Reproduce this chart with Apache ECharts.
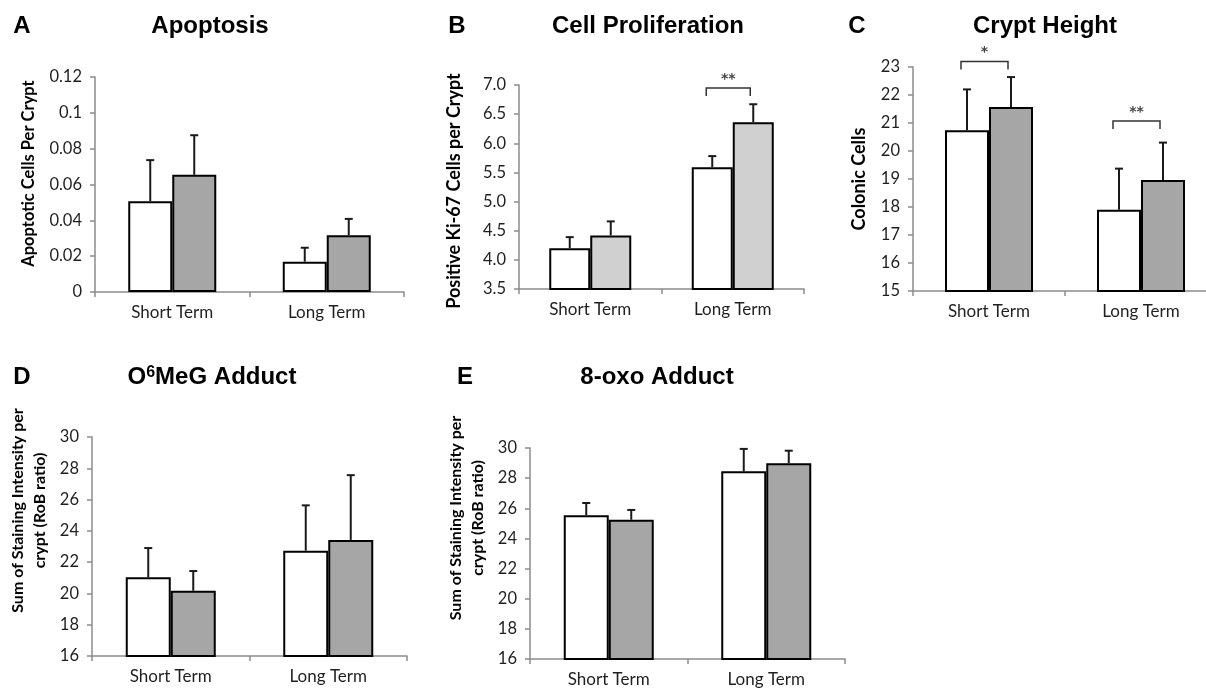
<!DOCTYPE html>
<html><head><meta charset="utf-8">
<script src="https://cdn.jsdelivr.net/npm/echarts@6/dist/echarts.min.js"></script>
<style>html,body{margin:0;padding:0;background:#fff}#c{width:1206px;height:690px}</style>
</head><body><div id="c"></div>
<script>
const categories = ['Short Term', 'Long Term'];

// A – Apoptosis
const apoptosisControl = [0.0507, 0.0169];
const apoptosisControlErr = [0.0229, 0.0078];
const apoptosisTreated = [0.0654, 0.0317];
const apoptosisTreatedErr = [0.0221, 0.0091];

// B – Cell proliferation
const prolifControl = [4.20, 5.59];
const prolifControlErr = [0.19, 0.19];
const prolifTreated = [4.42, 6.36];
const prolifTreatedErr = [0.24, 0.31];
const prolifBracketCat = [1];
const prolifBracketY = [6.95];
const prolifBracketLabel = ['**'];

// C – Crypt height
const cryptControl = [20.74, 17.90];
const cryptControlErr = [1.46, 1.47];
const cryptTreated = [21.57, 18.96];
const cryptTreatedErr = [1.07, 1.34];
const cryptBracketCat = [0, 1];
const cryptBracketY = [23.2, 21.07];
const cryptBracketLabel = ['*', '**'];

// D – O6MeG adduct
const o6Control = [21.04, 22.73];
const o6ControlErr = [1.86, 2.90];
const o6Treated = [20.17, 23.42];
const o6TreatedErr = [1.26, 4.14];

// E – 8-oxo adduct
const oxoControl = [25.53, 28.45];
const oxoControlErr = [0.82, 1.49];
const oxoTreated = [25.24, 28.98];
const oxoTreatedErr = [0.65, 0.84];

// tick ranges [min, max, interval]
const apoptosisTicks = [0, 0.12, 0.02];
const prolifTicks = [3.5, 7.0, 0.5];
const cryptTicks = [15, 23, 1];
const o6Ticks = [16, 30, 2];
const oxoTicks = [16, 30, 2];

const AXIS = '#8c8c8c';
const TXT = '#1f1f1f';
const LABEL_FONT = 'Lato';

const panels = [
  {grid:{left:95, top:77, width:309, height:215}, ticks:apoptosisTicks, dec:null, barW:44, gray:'#a6a6a6',
   name:'Apoptotic Cells Per Crypt', nameGap:55, nameSize:16.5, namePad:[0,0,0,22],
   ctrl:apoptosisControl, ctrlErr:apoptosisControlErr, trt:apoptosisTreated, trtErr:apoptosisTreatedErr},
  {grid:{left:519, top:85, width:285, height:204}, ticks:prolifTicks, dec:1, barW:41, gray:'#d0d0d0',
   name:'Positive Ki-67 Cells per Crypt', nameGap:54, nameSize:18, namePad:[0,8,0,0],
   ctrl:prolifControl, ctrlErr:prolifControlErr, trt:prolifTreated, trtErr:prolifTreatedErr,
   bCat:prolifBracketCat, bY:prolifBracketY, bLab:prolifBracketLabel},
  {grid:{left:913, top:67, width:304, height:224}, ticks:cryptTicks, dec:null, barW:44, gray:'#a6a6a6',
   name:'Colonic Cells', nameGap:43, nameSize:18, namePad:[0,0,0,0],
   ctrl:cryptControl, ctrlErr:cryptControlErr, trt:cryptTreated, trtErr:cryptTreatedErr,
   bCat:cryptBracketCat, bY:cryptBracketY, bLab:cryptBracketLabel},
  {grid:{left:92, top:437, width:315, height:219}, ticks:o6Ticks, dec:null, barW:45, gray:'#a6a6a6',
   name:'Sum of Staining Intensity per\ncrypt (RoB ratio)', nameGap:41, nameSize:16, namePad:[0,0,0,72],
   ctrl:o6Control, ctrlErr:o6ControlErr, trt:o6Treated, trtErr:o6TreatedErr},
  {grid:{left:530, top:448, width:315, height:211}, ticks:oxoTicks, dec:null, barW:45, gray:'#a6a6a6',
   name:'Sum of Staining Intensity per\ncrypt (RoB ratio)', nameGap:41, nameSize:16, namePad:[0,0,0,71],
   ctrl:oxoControl, ctrlErr:oxoControlErr, trt:oxoTreated, trtErr:oxoTreatedErr}
];

function errorRenderer(sign, barW) {
  return function (params, api) {
    const c = api.value(0), v = api.value(1), e = api.value(2);
    const p0 = api.coord([c, v]);
    const p1 = api.coord([c, v + e]);
    const x = p0[0] + sign * barW / 2;
    const cap = 4;
    const st = {stroke:'#1a1a1a', lineWidth:2};
    return {type:'group', children:[
      {type:'line', shape:{x1:x, y1:p0[1], x2:x, y2:p1[1]}, style:st},
      {type:'line', shape:{x1:x - cap, y1:p1[1], x2:x + cap, y2:p1[1]}, style:st}
    ]};
  };
}
function bracketRenderer(barW, labels) {
  return function (params, api) {
    const c = api.value(0), y = api.value(1);
    const p = api.coord([c, y]);
    const x1 = p[0] - barW / 2 - 6, x2 = p[0] + barW / 2 - 3;
    const yy = p[1], leg = 8;
    return {type:'group', children:[
      {type:'polyline', shape:{points:[[x1, yy + leg], [x1, yy], [x2, yy], [x2, yy + leg]]},
       style:{stroke:'#333', lineWidth:1.5, fill:null}},
      {type:'text', x:(x1 + x2) / 2, y:yy - 9,
       style:{text:labels[params.dataIndex], fill:'#444', font:'bold 14px "DejaVu Sans"', align:'center', verticalAlign:'middle'}}
    ]};
  };
}

const grid = [], xAxis = [], yAxis = [], series = [];
panels.forEach((p, i) => {
  grid.push(Object.assign({containLabel:false, outerBoundsMode:'none'}, p.grid));
  xAxis.push({type:'category', gridIndex:i, data:categories,
    axisLine:{lineStyle:{color:AXIS, width:1.5}},
    axisTick:{show:true, length:5, lineStyle:{color:AXIS, width:1.5}},
    axisLabel:{color:TXT, fontFamily:LABEL_FONT, fontSize:17, margin:12}});
  yAxis.push({type:'value', gridIndex:i, min:p.ticks[0], max:p.ticks[1], interval:p.ticks[2],
    splitLine:{show:false},
    axisLine:{show:true, lineStyle:{color:AXIS, width:1.5}},
    axisTick:{show:true, length:5, lineStyle:{color:AXIS, width:1.5}},
    axisLabel:{color:TXT, fontFamily:LABEL_FONT, fontSize:16.5, margin:13,
      formatter: p.dec === null ? (v => String(+v.toFixed(4))) : (v => v.toFixed(p.dec))},
    name:p.name, nameLocation:'middle', nameRotate:90, nameGap:p.nameGap,
    nameTextStyle:{color:'#000', fontFamily:LABEL_FONT, fontWeight:'bold', fontSize:p.nameSize, lineHeight:22, padding:p.namePad}});
  series.push({type:'bar', xAxisIndex:i, yAxisIndex:i, data:p.ctrl, barWidth:p.barW, barGap:'0%',
    itemStyle:{color:'#ffffff', borderColor:'#000', borderWidth:2}, z:2});
  series.push({type:'bar', xAxisIndex:i, yAxisIndex:i, data:p.trt, barWidth:p.barW, barGap:'0%',
    itemStyle:{color:p.gray, borderColor:'#000', borderWidth:2}, z:2});
  series.push({type:'custom', xAxisIndex:i, yAxisIndex:i, z:3,
    data:p.ctrl.map((v, k) => [k, v, p.ctrlErr[k]]),
    renderItem:errorRenderer(-1, p.barW)});
  series.push({type:'custom', xAxisIndex:i, yAxisIndex:i, z:3,
    data:p.trt.map((v, k) => [k, v, p.trtErr[k]]),
    renderItem:errorRenderer(1, p.barW)});
  if (p.bCat) {
    series.push({type:'custom', xAxisIndex:i, yAxisIndex:i, z:4, clip:false,
      data:p.bCat.map((c, k) => [c, p.bY[k]]),
      renderItem:bracketRenderer(p.barW, p.bLab)});
  }
});

const TF = '"Liberation Sans", Arial, sans-serif';
function t(x, y, text) {
  return {type:'text', x:x, y:y, style:{text:text, font:'bold 24px ' + TF, fill:'#000',
    align:'center', verticalAlign:'middle', textAlign:'center', textVerticalAlign:'middle'}};
}
const graphic = [
  t(22, 26, 'A'), t(210, 26, 'Apoptosis'),
  t(457, 26, 'B'), t(648, 26, 'Cell Proliferation'),
  t(857, 26, 'C'), t(1045, 26, 'Crypt Height'),
  t(22, 377, 'D'),
  {type:'text', x:212, y:377, style:{text:'{a|O}{s|6}{a|MeG Adduct}', fill:'#000',
    align:'center', verticalAlign:'middle', textAlign:'center', textVerticalAlign:'middle',
    rich:{a:{fontSize:24, fontWeight:'bold', fontFamily:TF, fill:'#000', color:'#000'},
          s:{fontSize:16, fontWeight:'bold', fontFamily:TF, verticalAlign:'top', fill:'#000', color:'#000'}}}},
  t(465, 377, 'E'), t(657, 377, '8-oxo Adduct')
];

const chart = echarts.init(document.getElementById('c'), null, {renderer:'canvas'});
chart.setOption({animation:false, backgroundColor:'#fff', grid, xAxis, yAxis, series, graphic});
</script>
</body></html>
